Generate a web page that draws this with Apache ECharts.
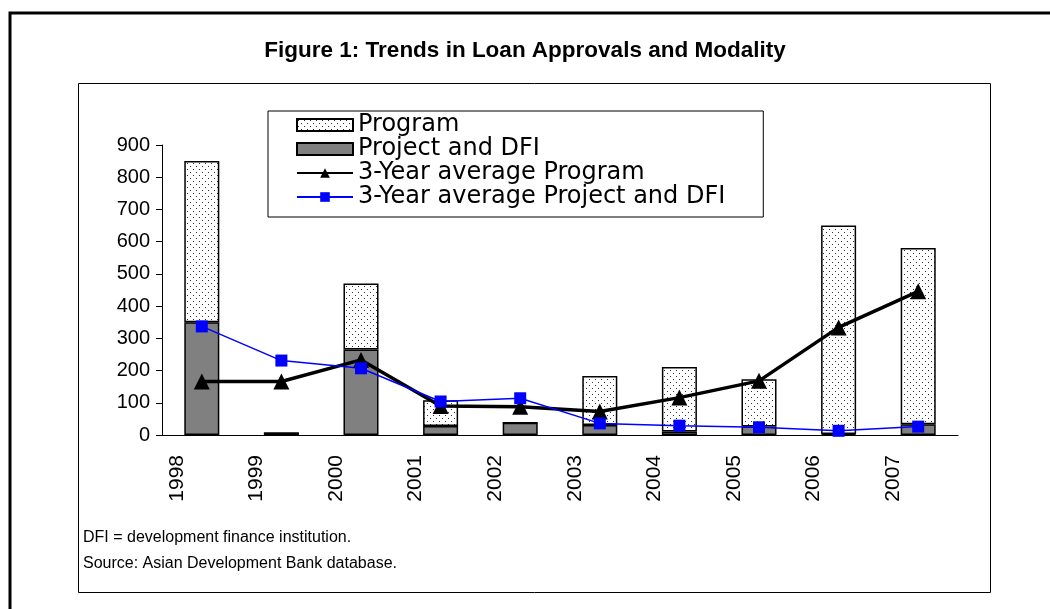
<!DOCTYPE html>
<html><head><meta charset="utf-8">
<script src="https://cdn.jsdelivr.net/npm/echarts@6/dist/echarts.min.js"></script>
<style>html,body{margin:0;padding:0;background:#fff}#c{width:1050px;height:609px}</style>
</head><body><div id="c"></div>
<script>
const years = ['1998','1999','2000','2001','2002','2003','2004','2005','2006','2007'];
const projectDFI = [350, 6, 265, 28, 38, 31, 11, 26, 3, 33];
const program = [500, 0, 205, 80, 0, 152, 200, 147, 647, 547];
const avgProgram = [166, 166, 233, 90, 88, 73, 116, 168, 334, 446];
const avgProjectDFI = [337, 231, 207, 104, 114, 36, 29, 24, 13, 26];
const yTicks = {min: 0, max: 900, interval: 100};

const FONT = 'Liberation Sans, Arial, sans-serif';
const pat = document.createElement('canvas');
pat.width = 6; pat.height = 6;
const pc = pat.getContext('2d');
pc.fillStyle = '#fff'; pc.fillRect(0, 0, 6, 6);
pc.fillStyle = '#333';
pc.fillRect(1, 1, 1, 1);
pc.fillRect(4, 4, 1, 1);

const chart = echarts.init(document.getElementById('c'));
chart.setOption({
  backgroundColor: '#fff',
  animation: false,
  title: {
    text: 'Figure 1: Trends in Loan Approvals and Modality',
    left: 'center', top: 34,
    textStyle: {fontFamily: FONT, fontSize: 22.5, fontWeight: 'bold', color: '#000'}
  },
  legend: {
    orient: 'vertical', left: 268, top: 111,
    padding: [2, 38, 8, 28],
    itemGap: 0, itemWidth: 56, itemHeight: 12,
    borderColor: '#000', borderWidth: 1,
    textStyle: {fontFamily: 'DejaVu Sans, sans-serif', fontSize: 24, color: '#000'},
    data: [
      {name: 'Program', icon: 'rect'},
      {name: 'Project and DFI', icon: 'rect'},
      {name: '3-Year average Program'},
      {name: '3-Year average Project and DFI'}
    ]
  },
  grid: {left: 162, right: 92, top: 145, bottom: 174, containLabel: false},
  xAxis: {
    type: 'category', data: years,
    axisLine: {lineStyle: {color: '#000', width: 1}},
    axisTick: {length: 6, lineStyle: {color: '#000'}},
    axisLabel: {rotate: 90, margin: 20, fontFamily: FONT, fontSize: 21, color: '#000',
      verticalAlign: 'bottom', lineHeight: 50}
  },
  yAxis: {
    type: 'value', min: yTicks.min, max: yTicks.max, interval: yTicks.interval,
    axisLine: {show: true, lineStyle: {color: '#000', width: 1}},
    axisTick: {show: true, length: 6, lineStyle: {color: '#000'}},
    splitLine: {show: false},
    axisLabel: {margin: 12, fontFamily: FONT, fontSize: 20, color: '#000'}
  },
  series: [
    {name: 'Project and DFI', type: 'bar', stack: 's', data: projectDFI, barWidth: '44%',
     itemStyle: {color: '#808080', borderColor: '#000', borderWidth: 1.5}},
    {name: 'Program', type: 'bar', stack: 's', data: program, barWidth: '44%',
     itemStyle: {color: {image: pat, repeat: 'repeat'}, borderColor: '#000', borderWidth: 1.5}},
    {name: '3-Year average Program', type: 'line', data: avgProgram,
     symbol: 'triangle', symbolSize: 16,
     lineStyle: {color: '#000', width: 3.5}, itemStyle: {color: '#000'}},
    {name: '3-Year average Project and DFI', type: 'line', data: avgProjectDFI,
     symbol: 'rect', symbolSize: 12,
     lineStyle: {color: '#0000ff', width: 1.5}, itemStyle: {color: '#0000ff'}}
  ],
  graphic: [
    {type: 'rect', shape: {x: 10, y: 13, width: 1100, height: 700}, style: {fill: 'none', stroke: '#000', lineWidth: 3}, silent: true},
    {type: 'rect', shape: {x: 78.5, y: 83.5, width: 912, height: 509}, style: {fill: 'none', stroke: '#000', lineWidth: 1}, silent: true},
    {type: 'text', left: 83, top: 530, style: {text: 'DFI = development finance institution.', font: '16px ' + FONT, fill: '#000'}},
    {type: 'text', left: 83, top: 556, style: {text: 'Source: Asian Development Bank database.', font: '16px ' + FONT, fill: '#000'}}
  ]
});
</script></body></html>
